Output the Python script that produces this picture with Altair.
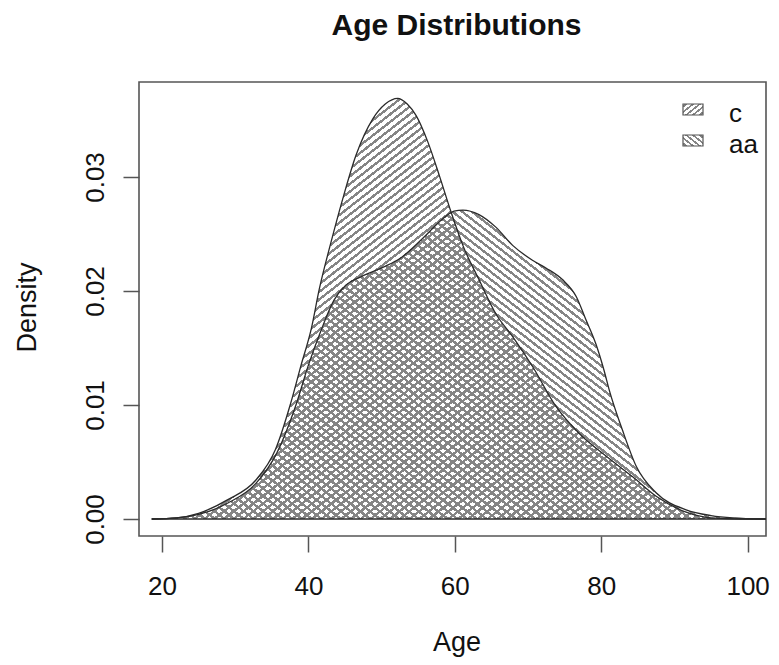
import math
import altair as alt
import pandas as pd

# ---------------- data ----------------
ages_c = [18.6, 22, 25, 29, 32.8, 35.5, 37.6, 39.0, 40.4, 41.5, 43.1, 44.7, 46.5,
          48.8, 50.5, 52.2, 53.5, 54.7, 56.3, 57.9, 59.5, 61.1, 63.3, 65.6, 67.9,
          70.6, 73.8, 77.0, 80.7, 84.3, 87.5, 91.6, 95.0, 99.0, 102.5]
dens_c = [0.0, 0.0001, 0.0005, 0.0017, 0.0034, 0.0061, 0.0102, 0.0135, 0.0167, 0.0202,
          0.0243, 0.0281, 0.0319, 0.0351, 0.0364, 0.0369, 0.0364, 0.0354, 0.0331,
          0.0301, 0.0269, 0.0240, 0.0210, 0.0180, 0.0160, 0.0134, 0.0099, 0.0075,
          0.0055, 0.0037, 0.0020, 0.0006, 0.0001, 0.0, 0.0]

ages_aa = [18.6, 22, 25, 29, 32.8, 35.7, 38.3, 40.0, 41.7, 43.5, 45.1, 47.0, 48.8,
           50.6, 52.4, 55.6, 58.3, 59.9, 61.1, 63.3, 65.6, 67.9, 70.6, 72.5, 74.7,
           76.6, 77.9, 79.3, 80.4, 81.1, 82.9, 84.8, 87.5, 91.6, 95.0, 98.0, 102.5]
dens_aa = [0.0, 0.0001, 0.0004, 0.0014, 0.0031, 0.0058, 0.0100, 0.0135, 0.0165, 0.0192,
           0.0205, 0.0212, 0.0217, 0.0222, 0.0228, 0.0246, 0.0263, 0.0270, 0.0271,
           0.0267, 0.0256, 0.0240, 0.0227, 0.0220, 0.0210, 0.0195, 0.0175, 0.0153,
           0.0130, 0.0113, 0.0078, 0.0046, 0.0023, 0.0008, 0.0003, 0.0001, 0.0]

x_ticks = [20, 40, 60, 80, 100]
y_ticks = [0.0, 0.01, 0.02, 0.03]
legend_labels = ["c", "aa"]

# ---------------- layout ----------------
W, H = 627, 454
XDOM = [16.86, 102.51]
YDOM = [-0.00149, 0.03833]
FONT = "Liberation Sans"
INK = "#111111"
FRAME = "#555555"
HATCH = "#858585"


def hatch(w, h, theta, kind, spacing=6.0, frac=0.4, color=HATCH):
    """Striped linear gradient that imitates R's density/angle hatching."""
    th = math.radians(theta)
    p = math.sin(th) * w
    q = math.cos(th) * h
    s = (p + q) / (p * p + q * q)
    a, b = s * p, s * q
    n = max(1, int(round((p + q) / spacing)))
    clear = "rgba(255,255,255,0)"
    half = frac / (2 * n)
    stops = [{"offset": 0, "color": clear}]
    for k in range(n):
        c0 = (k + 0.5) / n
        lo, hi = round(c0 - half, 6), round(c0 + half, 6)
        stops += [{"offset": lo, "color": clear}, {"offset": lo, "color": color},
                  {"offset": hi, "color": color}, {"offset": hi, "color": clear}]
    stops.append({"offset": 1, "color": clear})
    if kind == "/":
        x1, y1, x2, y2 = 0, 0, a, b
    else:
        x1, y1, x2, y2 = 0, 1, a, 1 - b
    return {"gradient": "linear", "stops": stops,
            "x1": x1, "y1": y1, "x2": x2, "y2": y2}


def bbox(ages, dens):
    w = (max(ages) - min(ages)) / (XDOM[1] - XDOM[0]) * W
    h = max(dens) / (YDOM[1] - YDOM[0]) * H
    return w, h


df_c = pd.DataFrame({"age": ages_c, "density": dens_c})
df_aa = pd.DataFrame({"age": ages_aa, "density": dens_aa})
df_base = pd.DataFrame({"age": [min(ages_c + ages_aa)], "age2": [max(ages_c + ages_aa)],
                        "density": [0.0]})

xs = alt.Scale(domain=XDOM, nice=False, zero=False)
ys = alt.Scale(domain=YDOM, nice=False, zero=False)

xaxis = alt.Axis(values=x_ticks, grid=False, domain=False, tickSize=16, tickColor=FRAME,
                 tickWidth=1.5, labelFont=FONT, labelFontSize=26, labelColor=INK,
                 labelBaseline="alphabetic", labelPadding=42, labelOverlap=False,
                 labelFlush=False, title="Age", titleFont=FONT, titleFontSize=27,
                 titleFontWeight="normal", titleColor=INK, titleBaseline="alphabetic",
                 titleAlign="center", titleX=W / 2 + 4, titleY=114)
yaxis = alt.Axis(values=y_ticks, format=".2f", grid=False, domain=False, tickSize=16,
                 tickColor=FRAME, tickWidth=1.5, labelFont=FONT, labelFontSize=26,
                 labelColor=INK, labelAngle=270, labelAlign="center",
                 labelBaseline="alphabetic", labelPadding=20, labelOverlap=False,
                 labelFlush=False, title="Density", titleFont=FONT, titleFontSize=27,
                 titleFontWeight="normal", titleColor=INK, titleAngle=270,
                 titleAlign="center", titleBaseline="alphabetic", titleX=-104, titleY=225)

X = alt.X("age:Q", scale=xs, axis=xaxis)
Y = alt.Y("density:Q", scale=ys, axis=yaxis)

wc, hc = bbox(ages_c, dens_c)
wa, ha = bbox(ages_aa, dens_aa)

area_c = alt.Chart(df_c).mark_area(fill=hatch(wc, hc, 38, "/"), opacity=1,
                                   interpolate="monotone").encode(x=X, y=Y, y2=alt.datum(0))
area_aa = alt.Chart(df_aa).mark_area(fill=hatch(wa, ha, 38, "\\"), opacity=1,
                                     interpolate="monotone").encode(x=X, y=Y, y2=alt.datum(0))
line_c = alt.Chart(df_c).mark_line(color="#2a2a2a", strokeWidth=1.3,
                                   interpolate="monotone").encode(x=X, y=Y)
line_aa = alt.Chart(df_aa).mark_line(color="#2a2a2a", strokeWidth=1.3,
                                     interpolate="monotone").encode(x=X, y=Y)
base = alt.Chart(df_base).mark_rule(color="#2a2a2a", strokeWidth=1.3).encode(
    x=X, x2="age2:Q", y=Y)

one = pd.DataFrame({"k": [0]})
title = alt.Chart(one).mark_text(text="Age Distributions", font=FONT, fontSize=30,
                                 fontWeight="bold", color=INK, align="center",
                                 baseline="alphabetic").encode(
    x=alt.value(W / 2 + 4), y=alt.value(-47))

leg_layers = []
for i, (lab, kind) in enumerate(zip(legend_labels, ["/", "\\"])):
    top = 22 + 31 * i
    leg_layers.append(alt.Chart(one).mark_rect(fill=hatch(20, 11, 38, kind, spacing=4.6),
                                               stroke=FRAME, strokeWidth=1.2).encode(
        x=alt.value(544), x2=alt.value(564), y=alt.value(top), y2=alt.value(top + 11)))
    leg_layers.append(alt.Chart(one).mark_text(text=lab, font=FONT, fontSize=26, color=INK,
                                               align="left", baseline="alphabetic").encode(
        x=alt.value(590), y=alt.value(top + 18)))

chart = alt.layer(area_c, area_aa, base, line_c, line_aa, title, *leg_layers).properties(
    width=W, height=H,
    padding={"left": 131, "top": 74, "right": 4, "bottom": 121},
    autosize=alt.AutoSizeParams(type="none"),
    background="white",
).configure_view(stroke=FRAME, strokeWidth=1.6)

chart.save("out.html", embed_options={"renderer": "svg", "actions": False})
